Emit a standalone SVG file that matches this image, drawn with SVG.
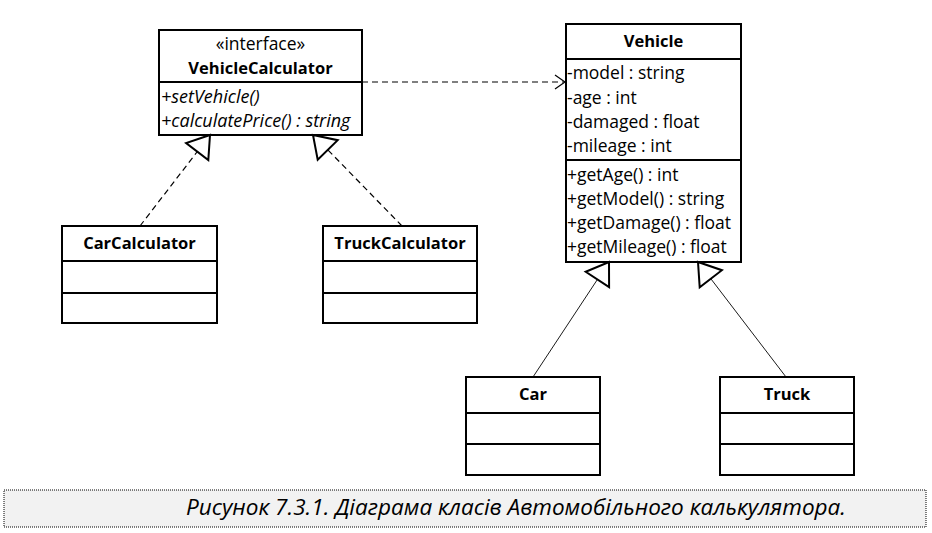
<svg xmlns="http://www.w3.org/2000/svg" width="932" height="533" viewBox="0 0 932 533">
<defs>
<style>
.box{fill:#fff;stroke:#000;stroke-width:2}
.sep{stroke:#000;stroke-width:2}
.t{font-family:"Open Sans","Noto Sans","DejaVu Sans",sans-serif;font-size:17.5px;fill:#000}
.b{font-weight:bold;text-anchor:middle;font-size:16.5px}
.c{text-anchor:middle}
.i{font-style:italic;font-size:18px}
.dash{fill:none;stroke:#000;stroke-width:1.2;stroke-dasharray:6,4}
.solid{fill:none;stroke:#000;stroke-width:0.9}
.tri{fill:#fff;stroke:#000;stroke-width:2;stroke-linejoin:miter}
.open{fill:none;stroke:#000;stroke-width:1.2}
.cap{font-family:"Open Sans","Noto Sans","DejaVu Sans",sans-serif;font-size:21px;font-style:italic;fill:#000}
</style>
</defs>
<rect width="932" height="533" fill="#fff"/>

<g id="VehicleCalculator">
<rect class="box" x="159" y="30" width="203" height="105"/>
<line class="sep" x1="159" y1="82" x2="362" y2="82"/>
<text class="t c" x="260.5" y="50">«interface»</text>
<text class="t b" x="260.5" y="74">VehicleCalculator</text>
<text class="t i" x="161" y="103">+setVehicle()</text>
<text class="t i" x="161" y="127">+calculatePrice() : string</text>
</g>

<g id="Vehicle">
<rect class="box" x="566" y="24" width="175" height="238"/>
<line class="sep" x1="566" y1="59" x2="741" y2="59"/>
<line class="sep" x1="566" y1="160" x2="741" y2="160"/>
<text class="t b" x="653.5" y="47">Vehicle</text>
<text class="t" x="567" y="79">-model : string</text>
<text class="t" x="567" y="104">-age : int</text>
<text class="t" x="567" y="128">-damaged : float</text>
<text class="t" x="567" y="152">-mileage : int</text>
<text class="t" x="567" y="181">+getAge() : int</text>
<text class="t" x="567" y="205">+getModel() : string</text>
<text class="t" x="567" y="229">+getDamage() : float</text>
<text class="t" x="567" y="253">+getMileage() : float</text>
</g>

<g id="CarCalculator">
<rect class="box" x="62" y="226" width="155" height="97"/>
<line class="sep" x1="62" y1="261" x2="217" y2="261"/>
<line class="sep" x1="62" y1="293" x2="217" y2="293"/>
<text class="t b" x="139.5" y="249">CarCalculator</text>
</g>

<g id="TruckCalculator">
<rect class="box" x="323" y="226" width="154" height="97"/>
<line class="sep" x1="323" y1="261" x2="477" y2="261"/>
<line class="sep" x1="323" y1="293" x2="477" y2="293"/>
<text class="t b" x="400" y="249">TruckCalculator</text>
</g>

<g id="Car">
<rect class="box" x="466" y="377" width="134" height="98"/>
<line class="sep" x1="466" y1="413" x2="600" y2="413"/>
<line class="sep" x1="466" y1="444" x2="600" y2="444"/>
<text class="t b" x="533" y="400">Car</text>
</g>

<g id="Truck">
<rect class="box" x="720" y="377" width="134" height="98"/>
<line class="sep" x1="720" y1="413" x2="854" y2="413"/>
<line class="sep" x1="720" y1="444" x2="854" y2="444"/>
<text class="t b" x="787" y="400">Truck</text>
</g>

<g id="connectors">
<line class="dash" x1="140" y1="226" x2="197" y2="152"/>
<polygon class="tri" points="210,135 208.3,160.1 186.1,143.1"/>
<line class="dash" x1="402" y1="226" x2="328" y2="150"/>
<polygon class="tri" points="313,135 337.7,140.2 317.7,159.8"/>
<line class="dash" x1="362" y1="82" x2="564" y2="82"/>
<polyline class="open" points="555,75 565,82 555,89"/>
<line class="solid" x1="533" y1="377" x2="597.4" y2="279.5"/>
<polygon class="tri" points="609,262 609.1,287.2 585.7,271.8"/>
<line class="solid" x1="786" y1="377" x2="710.8" y2="278.7"/>
<polygon class="tri" points="698,262 721.9,270.2 699.7,287.2"/>
</g>

<g id="caption">
<rect x="4" y="490" width="922" height="37" fill="#f2f2f2" stroke="#000" stroke-width="1" stroke-dasharray="1,1"/>
<text class="cap" x="186" y="515" textLength="660" lengthAdjust="spacingAndGlyphs">Рисунок 7.3.1. Діаграма класів Автомобільного калькулятора.</text>
</g>
</svg>
